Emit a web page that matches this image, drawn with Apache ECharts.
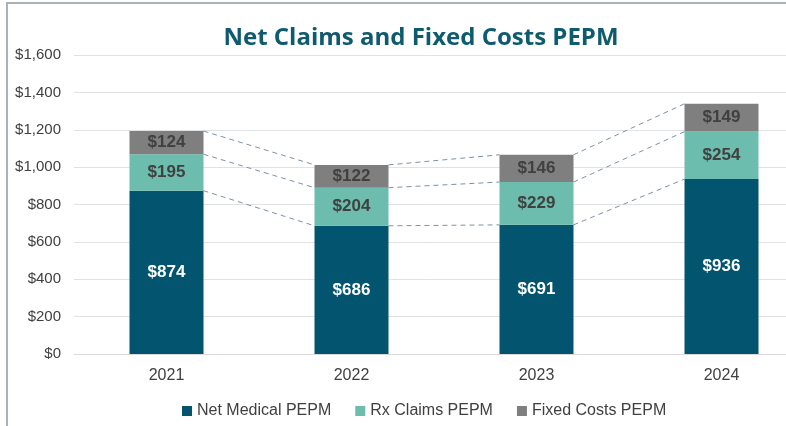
<!DOCTYPE html>
<html>
<head>
<meta charset="utf-8">
<script src="https://cdn.jsdelivr.net/npm/echarts@6/dist/echarts.min.js"></script>
<style>
  html, body { margin: 0; padding: 0; background: #fff; }
  #main { width: 786px; height: 426px; }
  .frame { position: absolute; left: 6px; top: 2px; width: 786px; height: 430px;
           border-left: 2px solid #a9b3b8; border-top: 2px solid #a9b3b8; pointer-events: none; }
</style>
</head>
<body>
<div id="main"></div>
<div class="frame"></div>
<script>
// chart data
var years = ['2021', '2022', '2023', '2024'];
var netMedical = [874, 686, 691, 936];
var rxClaims = [195, 204, 229, 254];
var fixedCosts = [124, 122, 146, 149];
var seriesNames = ['Net Medical PEPM', 'Rx Claims PEPM', 'Fixed Costs PEPM'];

// cumulative tops for the dashed connectors
var levels = [[], [], []];
for (var i = 0; i < years.length; i++) {
    levels[0].push(netMedical[i]);
    levels[1].push(netMedical[i] + rxClaims[i]);
    levels[2].push(netMedical[i] + rxClaims[i] + fixedCosts[i]);
}

function money(v) {
    return '$' + String(v).replace(/\B(?=(\d{3})+(?!\d))/g, ',');
}

var chart = echarts.init(document.getElementById('main'));
var labelFont = { fontFamily: 'Liberation Sans, Arial', fontSize: 17, fontWeight: 'bold' };

var option = {
    animation: false,
    title: {
        text: 'Net Claims and Fixed Costs PEPM',
        left: 416,
        top: 21,
        textAlign: 'center',
        textStyle: { color: '#0e5a6e', fontSize: 24, fontWeight: 'bold', fontFamily: 'Open Sans' }
    },
    legend: {
        data: seriesNames,
        bottom: 2,
        left: 177,
        itemWidth: 10,
        itemHeight: 10,
        itemGap: 24,
        icon: 'rect',
        textStyle: { color: '#404040', fontSize: 16, fontFamily: 'Liberation Sans, Arial' }
    },
    grid: { left: 74, top: 55, right: -28, bottom: 72, outerBoundsMode: 'none', containLabel: false },
    xAxis: {
        type: 'category',
        data: years,
        axisLine: { lineStyle: { color: '#d9d9d9' } },
        axisTick: { show: false },
        axisLabel: { color: '#404040', fontSize: 16, margin: 14, fontFamily: 'Liberation Sans, Arial' }
    },
    yAxis: {
        type: 'value',
        min: 0,
        max: 1600,
        interval: 200,
        axisLine: { show: false },
        axisTick: { show: false },
        splitLine: { lineStyle: { color: '#dfe3e6' } },
        axisLabel: {
            color: '#404040', fontSize: 15, margin: 13, fontFamily: 'Liberation Sans, Arial',
            formatter: money
        }
    },
    series: [
        {
            name: seriesNames[0], type: 'bar', stack: 'cost', barWidth: '40%',
            data: netMedical,
            itemStyle: { color: '#02546f' },
            label: Object.assign({ show: true, color: '#ffffff', formatter: function (p) { return money(p.value); } }, labelFont)
        },
        {
            name: seriesNames[1], type: 'bar', stack: 'cost', barWidth: '40%',
            data: rxClaims,
            itemStyle: { color: '#6cbdad' },
            label: Object.assign({ show: true, color: '#404040', formatter: function (p) { return money(p.value); } }, labelFont)
        },
        {
            name: seriesNames[2], type: 'bar', stack: 'cost', barWidth: '40%',
            data: fixedCosts,
            itemStyle: { color: '#7f7f7f' },
            label: Object.assign({ show: true, color: '#404040', formatter: function (p) { return money(p.value); } }, labelFont)
        },
        {
            // dashed lines joining segment tops between neighbouring bars
            name: 'connectors', type: 'custom', silent: true, z: 1,
            data: years.slice(0, -1).map(function (y, i) { return [i]; }),
            renderItem: function (params, api) {
                var idx = api.value(0);
                var half = api.size([1, 0])[0] * 0.2;
                var children = levels.map(function (lv) {
                    var a = api.coord([idx, lv[idx]]);
                    var b = api.coord([idx + 1, lv[idx + 1]]);
                    return {
                        type: 'line',
                        shape: { x1: a[0] + half, y1: a[1], x2: b[0] - half, y2: b[1] },
                        style: { stroke: '#7b91a6', lineWidth: 1, lineDash: [5, 4] }
                    };
                });
                return { type: 'group', children: children };
            }
        }
    ]
};
chart.setOption(option);
</script>
</body>
</html>
